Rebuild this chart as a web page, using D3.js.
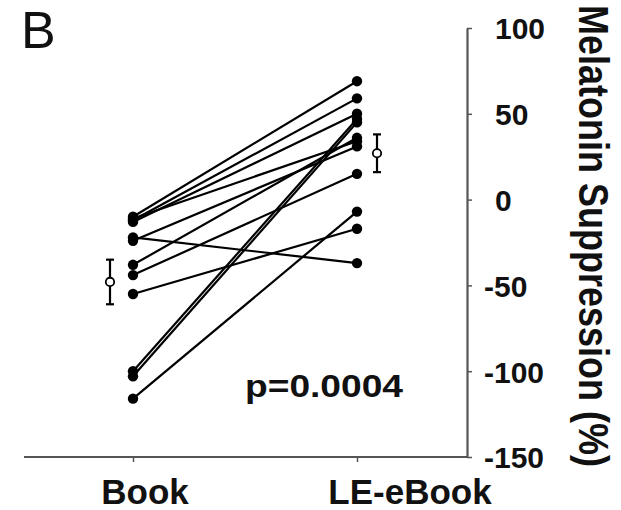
<!DOCTYPE html>
<html lang="en">
<head>
<meta charset="utf-8">
<script src="https://d3js.org/d3.v7.min.js"></script>
<style>
  body { margin: 0; background: #fff; }
  text { font-family: "Liberation Sans", Arial, Helvetica, sans-serif; fill: #111; }
</style>
</head>
<body>
<svg id="chart" width="621" height="510"></svg>
<script>
// data
const conditions = ["Book", "LE-eBook"];
const bookVals  = [-10, -12, -13, -11, -22, -24, -38, -44, -55, -100, -103, -116];
const ebookVals = [ 69,  59,  50,  34, -37,  31,  36,  15, -17,   47,   45,   -7];
const meanVals = [-48, 27];
const semVals  = [13, 11];
const yTicks = [100, 50, 0, -50, -100, -150];

const width = 621, height = 510;
const svg = d3.select("#chart");

const x = d3.scalePoint().domain(conditions).range([133, 357]);
const y = d3.scaleLinear().domain([-150, 100]).range([457, 28]);
const axisX = 467;

// panel letter
svg.append("text")
    .attr("x", 21).attr("y", 48)
    .style("font-size", "52px")
    .text("B");

// x axis
svg.append("line")
    .attr("x1", 24).attr("x2", axisX)
    .attr("y1", y(-150)).attr("y2", y(-150))
    .attr("stroke", "#555").attr("stroke-width", 2.2);

const gx = svg.append("g")
    .attr("transform", `translate(0,${y(-150)})`)
    .call(d3.axisBottom(x).tickSize(5).tickFormat(""));
gx.select(".domain").remove();
gx.selectAll(".tick line").attr("stroke", "#555").attr("stroke-width", 1.5);

const labelShift = [12, 53];
svg.selectAll(".xlab")
  .data(conditions)
  .join("text")
    .attr("class", "xlab")
    .attr("x", (d, i) => x(d) + labelShift[i])
    .attr("y", 504)
    .attr("text-anchor", "middle")
    .style("font-size", "35px")
    .style("font-weight", "bold")
    .text(d => d);

// y axis on the right
const gy = svg.append("g")
    .attr("transform", `translate(${axisX},0)`)
    .call(d3.axisRight(y).tickValues(yTicks).tickSize(5).tickSizeOuter(0)
      .tickFormat(d => String(d)));
gy.select(".domain").attr("stroke", "#555").attr("stroke-width", 2.2);
gy.selectAll(".tick line").attr("stroke", "#555").attr("stroke-width", 1.5);
gy.selectAll(".tick text")
    .attr("x", d => d < 0 ? 17 : 28)
    .attr("dy", "0.36em")
    .attr("text-anchor", "start")
    .attr("fill", "#111")
    .style("font-size", "30px")
    .style("font-weight", "bold")
    .style("font-family", '"Liberation Sans", Arial, sans-serif');

// y axis title (glyphs a bit taller than wide, as in the figure)
svg.append("text")
    .attr("transform", "translate(579,5) rotate(90) scale(1,1.2)")
    .attr("text-anchor", "start")
    .style("font-size", "36px")
    .style("font-weight", "bold")
    .text("Melatonin Suppression (%)");

// paired lines
const pairs = bookVals.map((b, i) => ({ book: b, ebook: ebookVals[i] }));
svg.append("g").selectAll("line")
  .data(pairs)
  .join("line")
    .attr("x1", x("Book")).attr("y1", d => y(d.book))
    .attr("x2", x("LE-eBook")).attr("y2", d => y(d.ebook))
    .attr("stroke", "#000").attr("stroke-width", 2.2);

const dots = svg.append("g");
dots.selectAll(".db")
  .data(bookVals)
  .join("circle")
    .attr("class", "db")
    .attr("cx", x("Book")).attr("cy", d => y(d)).attr("r", 5.2)
    .attr("fill", "#000");
dots.selectAll(".de")
  .data(ebookVals)
  .join("circle")
    .attr("class", "de")
    .attr("cx", x("LE-eBook")).attr("cy", d => y(d)).attr("r", 5.2)
    .attr("fill", "#000");

// group means with error bars
const meanShift = [-23, 20];
const means = conditions.map((c, i) => ({ c, m: meanVals[i], s: semVals[i], cx: x(c) + meanShift[i] }));
const mg = svg.append("g").selectAll("g")
  .data(means)
  .join("g");
mg.append("line")
    .attr("x1", d => d.cx).attr("x2", d => d.cx)
    .attr("y1", d => y(d.m + d.s)).attr("y2", d => y(d.m - d.s))
    .attr("stroke", "#000").attr("stroke-width", 2.2);
mg.selectAll(".cap")
  .data(d => [{ cx: d.cx, v: d.m + d.s }, { cx: d.cx, v: d.m - d.s }])
  .join("line")
    .attr("class", "cap")
    .attr("x1", d => d.cx - 4).attr("x2", d => d.cx + 4)
    .attr("y1", d => y(d.v)).attr("y2", d => y(d.v))
    .attr("stroke", "#000").attr("stroke-width", 2.2);
mg.append("circle")
    .attr("cx", d => d.cx).attr("cy", d => y(d.m)).attr("r", 4.2)
    .attr("fill", "#fff").attr("stroke", "#000").attr("stroke-width", 1.8);

// p value
svg.append("text")
    .attr("x", 245).attr("y", 397)
    .attr("textLength", 158)
    .attr("lengthAdjust", "spacingAndGlyphs")
    .style("font-size", "32px")
    .style("font-weight", "bold")
    .text("p=0.0004");
</script>
</body>
</html>
